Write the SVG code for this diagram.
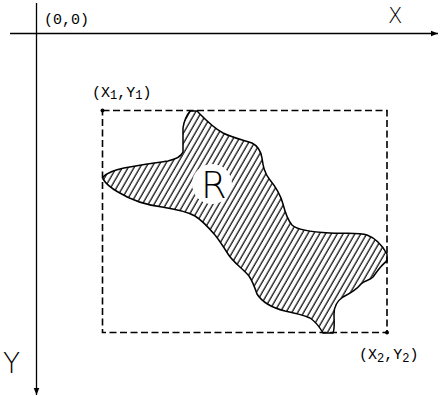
<svg xmlns="http://www.w3.org/2000/svg" width="440" height="396" viewBox="0 0 440 396">
<style>
.ax{stroke:#000;stroke-width:1.3;fill:none}
.lbl{font-family:"Liberation Mono","DejaVu Sans Mono",monospace;font-size:15px;fill:#000}
.big{font-family:"DejaVu Sans","Liberation Sans",sans-serif;font-weight:200;fill:#000}
.box{stroke:#000;stroke-width:1.6;fill:none;stroke-dasharray:7 3.5}
</style>
<defs>
<marker id="arr" viewBox="0 0 10 10" refX="10" refY="5" markerWidth="7" markerHeight="7" markerUnits="userSpaceOnUse" orient="auto">
<path d="M0,1 L10,5 L0,9 Z" fill="#000"/>
</marker>
<pattern id="hatch" width="5.1" height="10" patternUnits="userSpaceOnUse" patternTransform="rotate(30)">
<line x1="1" y1="0" x2="1" y2="10" stroke="#000" stroke-width="1.2"/>
</pattern>
</defs>
<rect width="440" height="396" fill="#fff"/>
<g id="axes">
<line class="ax" x1="10" y1="33.5" x2="438" y2="33.5" marker-end="url(#arr)"/>
<line class="ax" x1="36.5" y1="3" x2="36.5" y2="395" marker-end="url(#arr)"/>
<text class="big" x="388" y="23" font-size="21">X</text>
<text class="big" x="3" y="373" font-size="28">Y</text>
<text class="lbl" x="44" y="24" font-size="12.5">(0,0)</text>
</g>
<g id="box">
<rect class="box" x="102.5" y="110.5" width="284.5" height="222"/>
<circle cx="102.5" cy="110.5" r="2" fill="#000"/>
<circle cx="387" cy="332.5" r="2" fill="#000"/>
<text class="lbl" x="92" y="97">(X<tspan font-size="12" dy="2">1</tspan><tspan dy="-2">,Y</tspan><tspan font-size="12" dy="2">1</tspan><tspan dy="-2">)</tspan></text>
<text class="lbl" x="359" y="359">(X<tspan font-size="12" dy="3">2</tspan><tspan dy="-3">,Y</tspan><tspan font-size="12" dy="3">2</tspan><tspan dy="-3">)</tspan></text>
</g>
<g id="region">
<path d="M190,111 L197,111 C202,116 212,127 223,133 C233,138 244,140 252,143 C258,146 261,152 262,158 C263,165 264,173 270,180 C275,186 280,193 283,204 C285,212 287,219 292,225 C297,230 310,232 330,233 C345,234 358,232 367,235 C375,238 382,245 387,254 L387,261 C382,264 378,270 373,277 C369,281 365,280 361,284 C357,289 351,293 343,297 C337,301 334,306 334,314 C334,322 335,328 333,333 L323,333 C319,326 316,322 310,318 C303,315 295,313 285,311 C273,308 262,302 257,294 C255,288 253,282 249,276 C242,268 233,262 228,254 C223,246 219,240 215,235 C209,228 203,221 195,216 C186,211 175,209 162,207 C146,205 131,200 118,192 C111,188 106,184 103,179 L103,177 C107,173 114,170 124,168 C138,165 155,163 168,161 C176,159 181,157 183,152 L183,128 C184,121 186,116 190,111 Z" fill="url(#hatch)" stroke="#000" stroke-width="1.5"/>
<circle cx="212" cy="184" r="20" fill="#fff"/>
<text class="big" x="201" y="198" font-size="37">R</text>
</g>
</svg>
